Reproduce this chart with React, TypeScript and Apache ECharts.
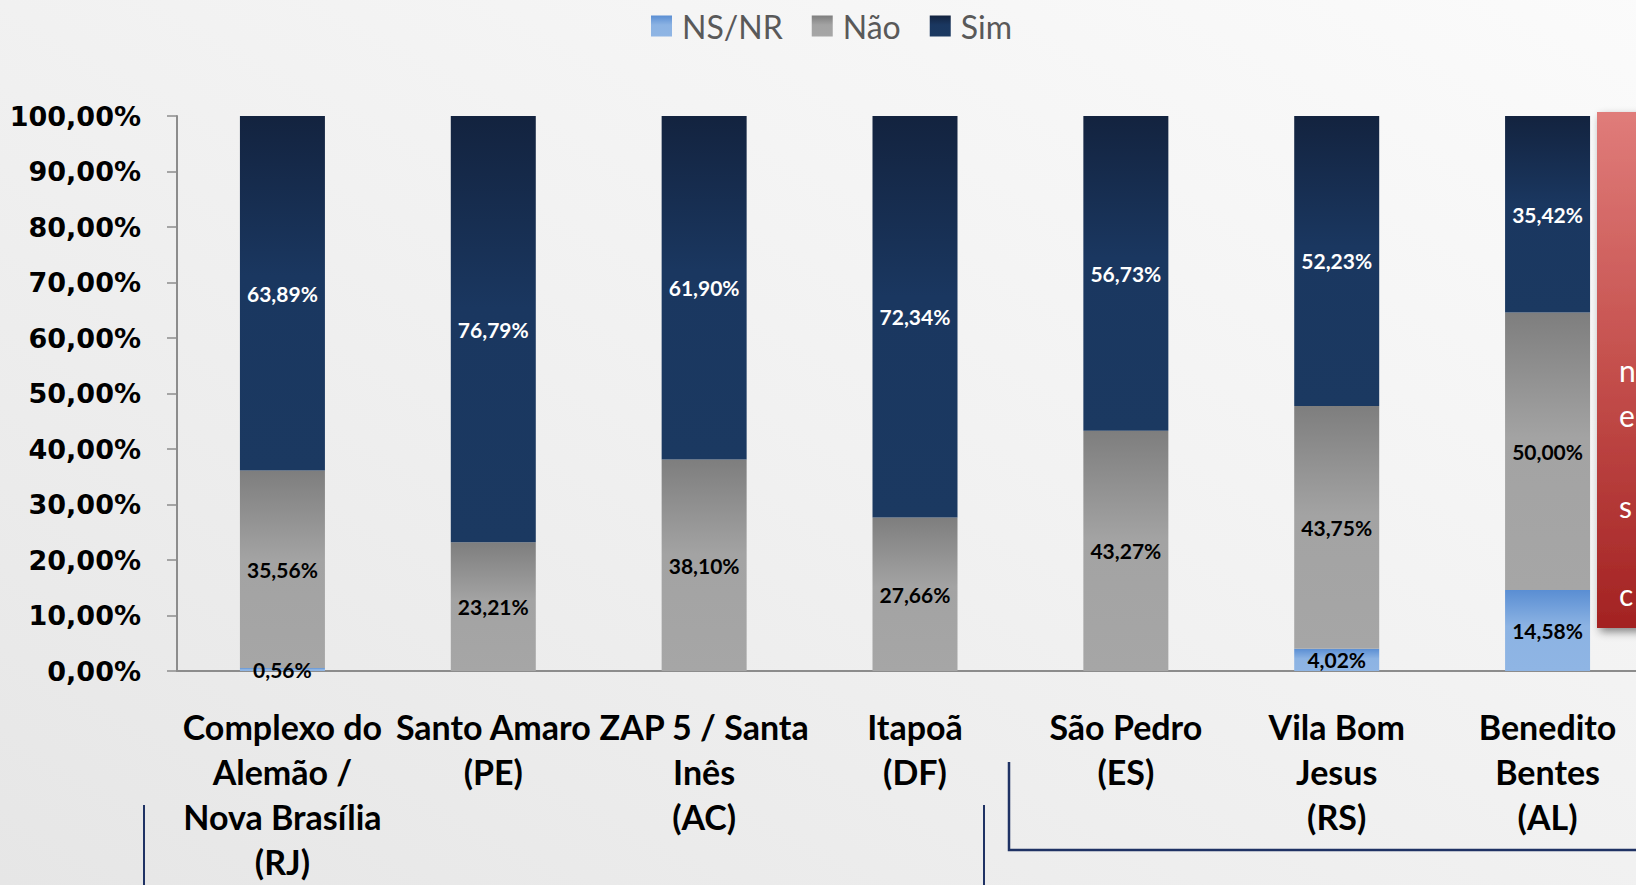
import React, { useEffect, useRef } from "react";
import * as echarts from "echarts";

const categories = [
  "Complexo do\nAlemão /\nNova Brasília\n(RJ)",
  "Santo Amaro\n(PE)",
  "ZAP 5 / Santa\nInês\n(AC)",
  "Itapoã\n(DF)",
  "São Pedro\n(ES)",
  "Vila Bom\nJesus\n(RS)",
  "Benedito\nBentes\n(AL)",
];
const nsnr = [0.56, 0, 0, 0, 0, 4.02, 14.58];
const nao = [35.56, 23.21, 38.1, 27.66, 43.27, 43.75, 50.0];
const sim = [63.89, 76.79, 61.9, 72.34, 56.73, 52.23, 35.42];
const seriesNames = ["NS/NR", "Não", "Sim"];
const boxLetters = ["n", "e", "s", "c"];

const fmt = (v: number) => v.toFixed(2).replace(".", ",") + "%";

const grad = (stops: [number, string][]) =>
  new echarts.graphic.LinearGradient(
    0,
    0,
    0,
    1,
    stops.map(([offset, color]) => ({ offset, color }))
  );

const CW = 1670;

export default function App() {
  const ref = useRef<HTMLDivElement>(null);
  useEffect(() => {
    if (!ref.current) return;
    const chart = echarts.init(ref.current, undefined, { renderer: "svg" });
    const labelBase = {
      show: true,
      position: "inside" as const,
      fontFamily: "Lato",
      fontWeight: "bold" as const,
      fontSize: 21,
      formatter: (p: any) => (p.value > 0 ? fmt(p.value) : ""),
    };
    const letterYs = [372, 417, 508, 596];
    chart.setOption({
      animation: false,
      graphic: [
        {
          type: "rect",
          z: -10,
          silent: true,
          shape: { x: 0, y: 0, width: CW, height: 885 },
          style: {
            fill: new echarts.graphic.LinearGradient(0, 1, 1, 0, [
              { offset: 0, color: "#e6e6e6" },
              { offset: 0.5, color: "#f1f1f1" },
              { offset: 1, color: "#fbfbfb" },
            ]),
          },
        },
        {
          type: "rect",
          z: 10,
          shape: { x: 1597, y: 112, width: 80, height: 516 },
          style: {
            fill: grad([
              [0, "#e07c7a"],
              [0.5, "#c44f4c"],
              [1, "#a32222"],
            ]),
            shadowBlur: 8,
            shadowOffsetX: 3,
            shadowOffsetY: 4,
            shadowColor: "rgba(0,0,0,0.45)",
          },
        },
        ...boxLetters.map((t, i) => ({
          type: "text",
          z: 11,
          left: 1619,
          top: letterYs[i] - 17,
          style: {
            text: t,
            fill: "#ffffff",
            fontFamily: "Lato",
            fontSize: 30,
          },
        })),
        {
          type: "line",
          shape: { x1: 144, y1: 805, x2: 144, y2: 885 },
          style: { stroke: "#1f3264", lineWidth: 2 },
        },
        {
          type: "line",
          shape: { x1: 984, y1: 805, x2: 984, y2: 885 },
          style: { stroke: "#1f3264", lineWidth: 2 },
        },
        {
          type: "polyline",
          shape: {
            points: [
              [1009, 762],
              [1009, 850],
              [CW, 850],
            ],
          },
          style: { stroke: "#1f3264", lineWidth: 2.5, fill: "none" },
        },
      ],
      legend: {
        left: 646,
        top: 5,
        icon: "rect",
        itemWidth: 21,
        itemHeight: 21,
        itemGap: 29,
        data: seriesNames,
        textStyle: {
          fontFamily: "Lato",
          fontSize: 32,
          color: "#595959",
          padding: [0, 0, 0, 5],
        },
      },
      grid: {
        left: 177,
        right: CW - 1653,
        top: 116,
        bottom: 214,
        containLabel: false,
        outerBoundsMode: "none",
      },
      xAxis: {
        type: "category",
        data: categories,
        axisLine: { lineStyle: { color: "#8c8c8c", width: 2 } },
        axisTick: { length: 10, lineStyle: { color: "#8c8c8c", width: 1.5 } },
        axisLabel: {
          interval: 0,
          margin: 33,
          color: "#000000",
          fontFamily: "Lato",
          fontWeight: "bold",
          fontSize: 34,
          lineHeight: 45,
        },
      },
      yAxis: {
        type: "value",
        min: 0,
        max: 100,
        interval: 10,
        splitLine: { show: false },
        axisLine: { show: true, lineStyle: { color: "#8c8c8c", width: 2 } },
        axisTick: { show: true, length: 10, lineStyle: { color: "#8c8c8c", width: 1.5 } },
        axisLabel: {
          margin: 36,
          color: "#000000",
          fontFamily: "DejaVu Sans",
          fontWeight: "bold",
          fontSize: 27,
          formatter: (v: number) => fmt(v),
        },
      },
      series: [
        {
          name: seriesNames[0],
          type: "bar",
          stack: "total",
          barWidth: 85,
          data: nsnr,
          itemStyle: {
            color: grad([
              [0, "#5a8ed3"],
              [0.45, "#8cb3e3"],
              [1, "#8fb5e4"],
            ]),
          },
          label: { ...labelBase, color: "#000000" },
        },
        {
          name: seriesNames[1],
          type: "bar",
          stack: "total",
          barWidth: 85,
          data: nao,
          itemStyle: {
            color: grad([
              [0, "#7e7e7e"],
              [0.45, "#a3a3a3"],
              [1, "#a6a6a6"],
            ]),
          },
          label: { ...labelBase, color: "#000000" },
        },
        {
          name: seriesNames[2],
          type: "bar",
          stack: "total",
          barWidth: 85,
          data: sim,
          itemStyle: {
            color: grad([
              [0, "#13233f"],
              [0.45, "#1a3760"],
              [1, "#1b3961"],
            ]),
          },
          label: { ...labelBase, color: "#ffffff" },
        },
      ],
    });
    return () => chart.dispose();
  }, []);
  return (
    <div style={{ position: "absolute", left: 0, top: 0, width: 1636, height: 885, overflow: "hidden" }}>
      <div ref={ref} style={{ width: CW, height: 885 }} />
    </div>
  );
}
